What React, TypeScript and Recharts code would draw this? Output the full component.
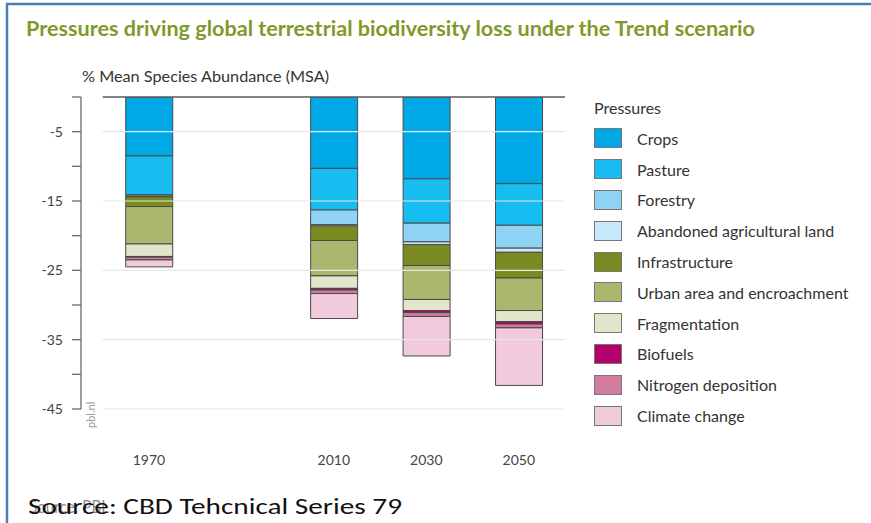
import React from "react";
import { BarChart, Bar, XAxis, YAxis, ReferenceLine } from "recharts";

const years = [1970, 2010, 2030, 2050];

const crops = [-8.5, -10.3, -11.8, -12.5];
const pasture = [-5.6, -6.0, -6.4, -6.0];
const forestry = [-0.2, -2.1, -2.7, -3.3];
const abandoned = [-0.1, -0.2, -0.4, -0.6];
const infrastructure = [-1.4, -2.1, -3.0, -3.7];
const urban = [-5.4, -5.1, -4.9, -4.7];
const fragmentation = [-1.8, -1.8, -1.6, -1.6];
const biofuels = [-0.1, -0.25, -0.3, -0.35];
const nitrogen = [-0.4, -0.5, -0.55, -0.55];
const climate = [-1.0, -3.6, -5.7, -8.3];

const seriesNames = [
  "Crops",
  "Pasture",
  "Forestry",
  "Abandoned agricultural land",
  "Infrastructure",
  "Urban area and encroachment",
  "Fragmentation",
  "Biofuels",
  "Nitrogen deposition",
  "Climate change",
];
const seriesValues = [
  crops, pasture, forestry, abandoned, infrastructure,
  urban, fragmentation, biofuels, nitrogen, climate,
];
const seriesColors = [
  "#00a8e6", "#17bdf0", "#8fd3f4", "#c8e9fa", "#7b8b22",
  "#abb66f", "#e1e5c9", "#b4006c", "#d37b9f", "#f1cadb",
];

const yTicks = [0, -5, -10, -15, -20, -25, -30, -35, -40, -45];
const yLabelled = [-5, -15, -25, -35, -45];

const data = years.map((year, i) => {
  const row: any = { year };
  seriesNames.forEach((n, s) => { row["s" + s] = seriesValues[s][i]; });
  return row;
});

const FONT = "Lato, 'Open Sans', sans-serif";

export default function App() {
  return (
    <div style={{ position: "absolute", left: 0, top: 0, width: 871, height: 523, background: "#fff", fontFamily: FONT }}>
      <BarChart
        width={871}
        height={523}
        data={data}
        margin={{ top: 97, right: 306, left: 21, bottom: 84 }}
        stackOffset="sign"
      >
        <XAxis
          dataKey="year"
          type="number"
          domain={[1955.3, 2060]}
          ticks={years}
          axisLine={false}
          tickLine={false}
          tickSize={0}
          tickMargin={46}
          tick={{ fill: "#444", fontSize: 14, fontFamily: FONT }}
          allowDataOverflow
        />
        <YAxis
          width={60}
          domain={[-45, 0]}
          ticks={yTicks}
          interval={0}
          tickSize={9}
          tickMargin={9}
          tickFormatter={(v: number) => (yLabelled.includes(v) ? String(v) : "")}
          axisLine={{ stroke: "#6b6b6b", strokeWidth: 1.3 }}
          tickLine={{ stroke: "#6b6b6b", strokeWidth: 1.3 }}
          tick={{ fill: "#444", fontSize: 14, fontFamily: FONT }}
          allowDataOverflow
        />
        {yLabelled.map((v) => (
          <ReferenceLine
            key={v}
            segment={[{ x: 1960, y: v }, { x: 2060, y: v }]}
            stroke="#e6e6e6"
            strokeWidth={1.2}
          />
        ))}
        {seriesNames.map((n, s) => (
          <Bar
            key={n}
            dataKey={"s" + s}
            name={n}
            stackId="a"
            fill={seriesColors[s]}
            stroke="#4a4a4a"
            strokeWidth={1}
            barSize={47}
            isAnimationActive={false}
          />
        ))}
        <ReferenceLine
          segment={[{ x: 1960, y: 0 }, { x: 2060, y: 0 }]}
          stroke="#5a5a5a"
          strokeWidth={1.5}
        />
      </BarChart>

      <svg width={871} height={523} style={{ position: "absolute", left: 0, top: 0, pointerEvents: "none" }}>
        <line x1={6} y1={4} x2={871} y2={4} stroke="#4a7ebb" strokeWidth={2.5} />
        <line x1={7} y1={3} x2={7} y2={523} stroke="#4a7ebb" strokeWidth={2.5} />
        <text x={26} y={36} fontSize={20} fontWeight="bold" fill="#7f9a2a" fontFamily={FONT}
          textLength={729} lengthAdjust="spacingAndGlyphs">
          Pressures driving global terrestrial biodiversity loss under the Trend scenario
        </text>
        <text x={82} y={82} fontSize={14.5} fill="#333" fontFamily={FONT}
          textLength={247} lengthAdjust="spacingAndGlyphs">
          % Mean Species Abundance (MSA)
        </text>
        <text x={95} y={428} fontSize={11} fill="#9a9a9a" fontFamily={FONT}
          transform="rotate(-90 95 428)">
          pbl.nl
        </text>
        <text x={29} y={513} fontSize={17} fill="#8a8a8a" fontFamily={FONT}
          textLength={80} lengthAdjust="spacingAndGlyphs">
          Source: PBL
        </text>
        <text x={28} y={514} fontSize={23} fill="#111" fontFamily="Carlito, Calibri, 'Liberation Sans', sans-serif"
          textLength={374} lengthAdjust="spacingAndGlyphs">
          Source: CBD Tehcnical Series 79
        </text>
      </svg>

      <div style={{ position: "absolute", left: 594, top: 97, color: "#333", fontSize: 16, fontFamily: FONT }}>
        <div style={{ height: 22, lineHeight: "22px", marginBottom: 4 }}>Pressures</div>
        {seriesNames.map((n, s) => (
          <div key={n} style={{ display: "flex", alignItems: "center", height: 30.8 }}>
            <div style={{ width: 26, height: 18, background: seriesColors[s], border: "1px solid #777", marginRight: 15 }} />
            <span>{n}</span>
          </div>
        ))}
      </div>
    </div>
  );
}
